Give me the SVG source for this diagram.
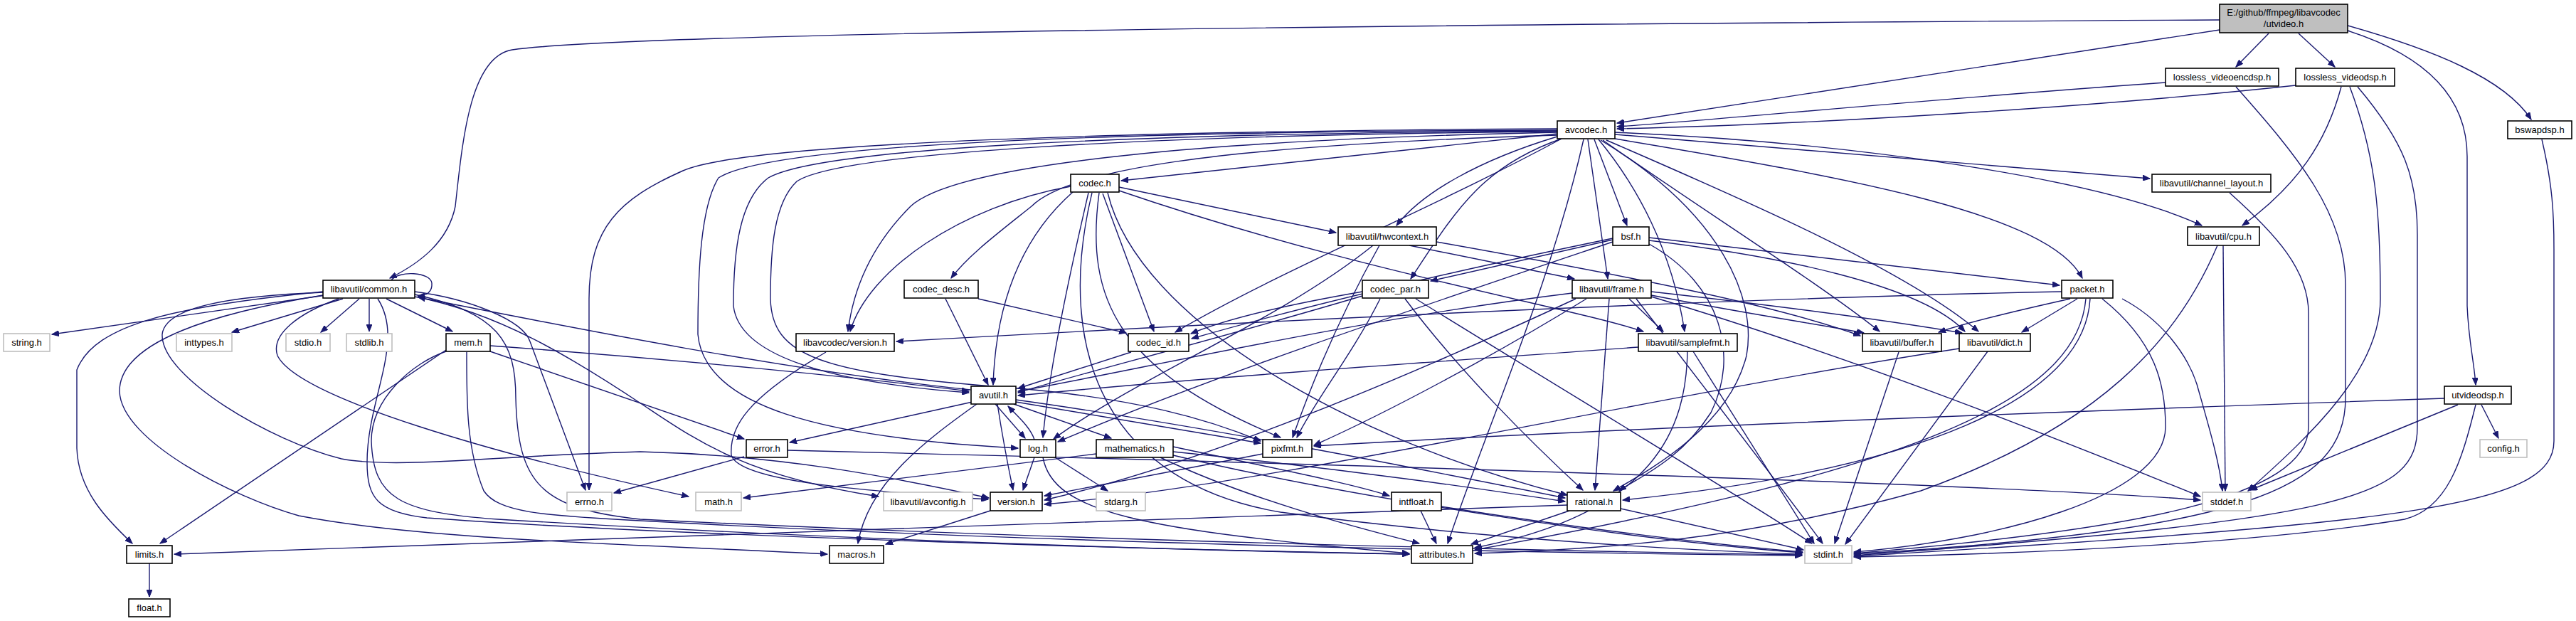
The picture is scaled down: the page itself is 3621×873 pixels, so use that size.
<svg xmlns="http://www.w3.org/2000/svg" width="3621" height="873" viewBox="0 0 3621 873">
<defs>
<marker id="a" markerWidth="11" markerHeight="8" refX="10" refY="4" orient="auto" markerUnits="userSpaceOnUse"><path d="M0,0 L10,4 L0,8 z" fill="#191970" stroke="#191970" stroke-width="1"/></marker>
<style>
.n rect{fill:#fff;stroke:#000;stroke-width:1.6}
.g rect{fill:#fff;stroke:#bfbfbf;stroke-width:1.6}
.r rect{fill:#bfbfbf;stroke:#000;stroke-width:1.6}
text{font-family:"Liberation Sans",Arial,sans-serif;font-size:13px;text-anchor:middle;fill:#000}
#edges path{fill:none;stroke:#191970;stroke-width:1.4;marker-end:url(#a)}
</style>
</defs>
<rect width="3621" height="873" fill="#fff"/>
<g id="edges">
<path d="M3120,28 C2000,34 900,45 720,70 C660,80 650,200 640,290 C630,340 590,370 548,391"/>
<path d="M3120,42 L2273,173"/>
<path d="M3189,47 L3143,94"/>
<path d="M3231,47 L3282,94"/>
<path d="M3300,43 C3400,75 3468,130 3468,220 L3468,430 C3470,480 3478,510 3480,541"/>
<path d="M3300,36 C3420,70 3520,110 3558,168"/>
<path d="M3044,116 C2700,140 2400,170 2273,178"/>
<path d="M3143,122 C3230,220 3297,300 3297,400 L3297,560 C3297,690 3150,745 2606,779"/>
<path d="M3227,120 C2950,150 2550,175 2273,181"/>
<path d="M3291,122 C3270,200 3230,260 3152,317"/>
<path d="M3303,122 C3340,220 3346,300 3346,420 C3346,520 3250,610 3160,690"/>
<path d="M3314,122 C3380,200 3398,250 3398,330 L3398,600 C3398,700 3300,730 2606,781"/>
<path d="M3573,196 C3588,260 3590,300 3590,350 L3590,620 C3590,710 3400,735 2606,782"/>
<path d="M3134,271 C3200,330 3245,380 3245,440 L3245,600 C3245,700 3000,745 2606,778"/>
<path d="M3125,345 L3128,690"/>
<path d="M3117,345 C3060,480 2950,600 2700,690 C2450,760 2250,772 2073,778"/>
<path d="M3436,560 C3000,575 2300,600 1847,627"/>
<path d="M3488,569 L3512,616"/>
<path d="M3455,569 L3163,689"/>
<path d="M3480,569 C3460,650 3440,715 3380,730 C3200,760 2900,778 2606,783"/>
<path d="M2189,181 C1600,184 1050,200 960,240 C870,280 828,320 828,420 L828,689"/>
<path d="M2189,186 C1750,195 1350,225 1280,290 C1230,340 1200,400 1192,466"/>
<path d="M2189,184 C1550,188 1150,210 1080,250 C1040,280 1031,350 1031,430 C1040,510 1200,540 1362,552"/>
<path d="M2189,183 C1500,185 1080,205 1010,250 C985,290 981,380 981,470 C990,570 1150,615 1431,630"/>
<path d="M2189,185 C1600,190 1180,215 1120,255 C1088,285 1083,350 1083,420 C1085,500 1150,525 1420,545 C1600,560 1700,590 1772,620"/>
<path d="M2189,188 L1576,254"/>
<path d="M2189,192 C2080,225 2000,270 1963,317"/>
<path d="M2195,195 C2080,235 2044,300 1983,392"/>
<path d="M2232,196 L2260,392"/>
<path d="M2241,196 L2287,317"/>
<path d="M2226,196 C2180,400 2090,600 2035,764"/>
<path d="M2247,196 C2300,260 2350,350 2368,466"/>
<path d="M2253,197 C2400,300 2560,400 2642,466"/>
<path d="M2258,197 C2450,280 2680,380 2781,466"/>
<path d="M2270,195 C2600,250 2880,300 2927,391"/>
<path d="M2270,186 C2600,200 2950,250 3095,317"/>
<path d="M2270,189 L3022,251"/>
<path d="M2250,197 C2420,300 2470,420 2455,500 C2430,600 2320,660 2268,690"/>
<path d="M2189,190 C1700,205 1500,240 1450,290 C1400,330 1360,360 1337,391"/>
<path d="M2195,195 C2000,300 1800,380 1652,467"/>
<path d="M1505,262 C1350,290 1220,380 1195,466"/>
<path d="M1508,270 C1440,330 1400,420 1396,541"/>
<path d="M1530,271 C1500,400 1475,520 1466,615"/>
<path d="M1573,263 L1878,327"/>
<path d="M1573,268 C1900,380 2200,430 2310,466"/>
<path d="M1550,272 L1622,466"/>
<path d="M1545,271 C1525,420 1570,520 1800,615"/>
<path d="M1557,271 C1600,450 1900,620 2203,696"/>
<path d="M1535,271 C1480,500 1560,680 1800,720 C2100,760 2400,775 2533,779"/>
<path d="M1329,420 L1389,541"/>
<path d="M1375,420 L1583,468"/>
<path d="M1590,495 L1431,546"/>
<path d="M1915,410 C1800,430 1720,450 1674,469"/>
<path d="M1915,416 C1700,480 1500,530 1431,552"/>
<path d="M1940,420 C1900,500 1850,560 1823,615"/>
<path d="M1975,420 C2050,520 2150,620 2225,689"/>
<path d="M1990,420 C2200,550 2450,700 2547,764"/>
<path d="M2318,338 C2500,360 2700,400 2762,466"/>
<path d="M2318,334 L2895,401"/>
<path d="M2267,337 L2011,395"/>
<path d="M2267,335 C2000,390 1800,440 1675,476"/>
<path d="M2267,340 C2000,430 1700,530 1487,621"/>
<path d="M2318,343 C2420,400 2445,500 2405,580 C2360,650 2300,672 2276,690"/>
<path d="M2898,410 C2400,420 1800,450 1260,480"/>
<path d="M2910,420 C2820,440 2760,455 2725,467"/>
<path d="M2920,420 L2842,467"/>
<path d="M2983,420 C3040,450 3075,500 3088,540 C3105,600 3120,650 3124,690"/>
<path d="M2955,420 C3030,480 3044,540 3044,600 C3044,700 2800,760 2606,776"/>
<path d="M2932,420 C2920,560 2700,660 2073,773"/>
<path d="M2938,420 C2930,560 2700,660 2281,703"/>
<path d="M1981,345 L2213,392"/>
<path d="M2019,340 C2300,390 2500,430 2615,472"/>
<path d="M1930,345 C1800,450 1600,530 1481,617"/>
<path d="M1939,345 C1880,450 1840,550 1817,615"/>
<path d="M2210,412 C1900,450 1600,520 1431,550"/>
<path d="M2290,420 L2338,466"/>
<path d="M2321,415 C2450,440 2550,455 2620,468"/>
<path d="M2321,410 C2500,430 2650,450 2758,468"/>
<path d="M2262,420 L2242,689"/>
<path d="M2230,420 C2100,500 1950,580 1847,626"/>
<path d="M2215,420 C2000,520 1700,650 1468,703"/>
<path d="M2300,420 C2400,550 2500,680 2562,764"/>
<path d="M2321,417 C2600,500 2900,620 3093,698"/>
<path d="M2303,488 C2000,510 1700,530 1431,556"/>
<path d="M2372,494 C2370,600 2330,720 2073,770"/>
<path d="M2380,494 L2550,764"/>
<path d="M2669,495 L2579,764"/>
<path d="M2794,494 L2594,765"/>
<path d="M2754,490 C2300,560 1800,680 1468,709"/>
<path d="M1161,495 C1050,560 1025,600 1028,640 C1040,680 1250,692 1389,702"/>
<path d="M1364,548 C1100,520 800,460 588,418"/>
<path d="M1367,565 L1110,622"/>
<path d="M1399,568 L1441,616"/>
<path d="M1425,568 L1562,616"/>
<path d="M1428,565 L1772,623"/>
<path d="M1402,568 C1410,620 1418,660 1424,689"/>
<path d="M1373,568 C1300,620 1220,680 1206,764"/>
<path d="M1428,562 C1700,600 2000,660 2200,700"/>
<path d="M1454,618 C1448,600 1430,585 1417,571"/>
<path d="M1454,643 L1438,689"/>
<path d="M1483,643 L1557,690"/>
<path d="M1466,643 C1480,720 1600,745 1981,778"/>
<path d="M1046,642 L863,693"/>
<path d="M1107,633 C1800,650 2800,680 3093,703"/>
<path d="M1541,638 L1045,700"/>
<path d="M1649,635 C1900,660 2100,690 2200,705"/>
<path d="M1649,628 C1800,660 1900,680 1953,697"/>
<path d="M1631,643 C1750,700 1900,740 1995,764"/>
<path d="M1649,640 C1900,700 2300,760 2534,777"/>
<path d="M1775,638 L1468,697"/>
<path d="M1392,718 L1245,765"/>
<path d="M2278,715 L2535,773"/>
<path d="M2206,718 L2068,765"/>
<path d="M2203,710 C1500,730 800,760 245,779"/>
<path d="M1997,718 L2019,764"/>
<path d="M2026,712 C2200,740 2400,765 2534,776"/>
<path d="M210,792 L210,839"/>
<path d="M458,415 L73,470"/>
<path d="M482,420 L326,467"/>
<path d="M505,420 L451,467"/>
<path d="M519,420 L519,466"/>
<path d="M543,420 L636,466"/>
<path d="M454,410 C250,430 133,455 108,520 L108,630 C110,690 150,730 186,764"/>
<path d="M583,410 C660,420 735,450 745,480 L823,689"/>
<path d="M476,420 C420,440 380,470 390,500 C420,560 700,640 968,698"/>
<path d="M454,415 C300,440 168,480 168,550 C170,620 330,700 420,725 C600,760 900,765 1163,779"/>
<path d="M583,417 C700,440 800,500 905,570 C980,620 1050,670 1235,698"/>
<path d="M454,411 C330,416 232,430 228,470 C226,530 380,620 480,645 C560,660 700,640 900,635 C1100,640 1250,670 1390,700"/>
<path d="M531,420 C570,480 516,560 516,650 C516,700 530,720 600,728 C900,750 1500,770 1981,779"/>
<path d="M583,414 C700,440 725,480 725,560 C728,680 760,715 900,730 C1500,760 2200,775 2533,780"/>
<path d="M550,394 C560,380 605,382 607,398 C608,410 600,416 587,416"/>
<path d="M627,492 L225,764"/>
<path d="M627,494 C580,510 522,560 522,620 C525,700 560,720 700,730 C1200,760 1700,775 1981,779"/>
<path d="M656,495 C656,560 655,630 680,690 C700,720 760,725 900,732 C1500,765 2200,778 2533,781"/>
<path d="M689,494 L1046,617"/>
<path d="M689,486 C950,505 1200,530 1362,550"/>
</g>
<g id="utvideo" class="r"><rect x="3120" y="6" width="180" height="40"/><text x="3210" y="22">E:/github/ffmpeg/libavcodec</text><text x="3210" y="38">/utvideo.h</text></g>
<g id="lossless_videoencdsp" class="n"><rect x="3044" y="96" width="159" height="25"/><text x="3123.5" y="113">lossless_videoencdsp.h</text></g>
<g id="lossless_videodsp" class="n"><rect x="3227" y="96" width="139" height="25"/><text x="3296.5" y="113">lossless_videodsp.h</text></g>
<g id="avcodec" class="n"><rect x="2189" y="170" width="81" height="25"/><text x="2229.5" y="187">avcodec.h</text></g>
<g id="bswapdsp" class="n"><rect x="3525" y="170" width="90" height="25"/><text x="3570" y="187">bswapdsp.h</text></g>
<g id="codec" class="n"><rect x="1505" y="245" width="68" height="25"/><text x="1539" y="262">codec.h</text></g>
<g id="channel_layout" class="n"><rect x="3025" y="245" width="167" height="25"/><text x="3108.5" y="262">libavutil/channel_layout.h</text></g>
<g id="hwcontext" class="n"><rect x="1881" y="319" width="138" height="26"/><text x="1950" y="336.5">libavutil/hwcontext.h</text></g>
<g id="bsf" class="n"><rect x="2267" y="319" width="51" height="26"/><text x="2292.5" y="336.5">bsf.h</text></g>
<g id="cpu" class="n"><rect x="3075" y="319" width="101" height="26"/><text x="3125.5" y="336.5">libavutil/cpu.h</text></g>
<g id="common" class="n"><rect x="454" y="394" width="129" height="25"/><text x="518.5" y="411">libavutil/common.h</text></g>
<g id="codec_desc" class="n"><rect x="1271" y="394" width="104" height="25"/><text x="1323" y="411">codec_desc.h</text></g>
<g id="codec_par" class="n"><rect x="1915" y="394" width="93" height="25"/><text x="1961.5" y="411">codec_par.h</text></g>
<g id="frame" class="n"><rect x="2210" y="394" width="111" height="25"/><text x="2265.5" y="411">libavutil/frame.h</text></g>
<g id="packet" class="n"><rect x="2898" y="394" width="72" height="25"/><text x="2934" y="411">packet.h</text></g>
<g id="string" class="g"><rect x="5" y="469" width="65" height="25"/><text x="37.5" y="486">string.h</text></g>
<g id="inttypes" class="g"><rect x="248" y="469" width="78" height="25"/><text x="287" y="486">inttypes.h</text></g>
<g id="stdio" class="g"><rect x="402" y="469" width="62" height="25"/><text x="433" y="486">stdio.h</text></g>
<g id="stdlib" class="g"><rect x="487" y="469" width="64" height="25"/><text x="519" y="486">stdlib.h</text></g>
<g id="mem" class="n"><rect x="627" y="469" width="62" height="25"/><text x="658" y="486">mem.h</text></g>
<g id="lavc_version" class="n"><rect x="1119" y="469" width="138" height="25"/><text x="1188" y="486">libavcodec/version.h</text></g>
<g id="codec_id" class="n"><rect x="1586" y="469" width="85" height="25"/><text x="1628.5" y="486">codec_id.h</text></g>
<g id="samplefmt" class="n"><rect x="2303" y="469" width="139" height="25"/><text x="2372.5" y="486">libavutil/samplefmt.h</text></g>
<g id="buffer" class="n"><rect x="2618" y="469" width="111" height="25"/><text x="2673.5" y="486">libavutil/buffer.h</text></g>
<g id="dict" class="n"><rect x="2754" y="469" width="100" height="25"/><text x="2804" y="486">libavutil/dict.h</text></g>
<g id="avutil" class="n"><rect x="1365" y="543" width="63" height="25"/><text x="1396.5" y="560">avutil.h</text></g>
<g id="utvideodsp" class="n"><rect x="3436" y="543" width="94" height="25"/><text x="3483" y="560">utvideodsp.h</text></g>
<g id="error" class="n"><rect x="1049" y="618" width="58" height="25"/><text x="1078" y="635">error.h</text></g>
<g id="log" class="n"><rect x="1434" y="618" width="50" height="25"/><text x="1459" y="635">log.h</text></g>
<g id="mathematics" class="n"><rect x="1541" y="618" width="108" height="25"/><text x="1595" y="635">mathematics.h</text></g>
<g id="pixfmt" class="n"><rect x="1775" y="618" width="69" height="25"/><text x="1809.5" y="635">pixfmt.h</text></g>
<g id="config" class="g"><rect x="3486" y="618" width="66" height="25"/><text x="3519" y="635">config.h</text></g>
<g id="errno" class="g"><rect x="797" y="692" width="63" height="26"/><text x="828.5" y="709.5">errno.h</text></g>
<g id="math" class="g"><rect x="978" y="692" width="64" height="26"/><text x="1010" y="709.5">math.h</text></g>
<g id="avconfig" class="g"><rect x="1242" y="692" width="125" height="26"/><text x="1304.5" y="709.5">libavutil/avconfig.h</text></g>
<g id="version" class="n"><rect x="1392" y="692" width="73" height="26"/><text x="1428.5" y="709.5">version.h</text></g>
<g id="stdarg" class="g"><rect x="1541" y="692" width="69" height="26"/><text x="1575.5" y="709.5">stdarg.h</text></g>
<g id="intfloat" class="n"><rect x="1956" y="692" width="70" height="26"/><text x="1991" y="709.5">intfloat.h</text></g>
<g id="rational" class="n"><rect x="2203" y="692" width="75" height="26"/><text x="2240.5" y="709.5">rational.h</text></g>
<g id="stddef" class="g"><rect x="3096" y="692" width="68" height="26"/><text x="3130" y="709.5">stddef.h</text></g>
<g id="limits" class="n"><rect x="178" y="767" width="64" height="25"/><text x="210" y="784">limits.h</text></g>
<g id="macros" class="n"><rect x="1166" y="767" width="76" height="25"/><text x="1204" y="784">macros.h</text></g>
<g id="attributes" class="n"><rect x="1984" y="767" width="86" height="25"/><text x="2027" y="784">attributes.h</text></g>
<g id="stdint" class="g"><rect x="2537" y="767" width="66" height="25"/><text x="2570" y="784">stdint.h</text></g>
<g id="float" class="n"><rect x="181" y="842" width="58" height="25"/><text x="210" y="859">float.h</text></g>
</svg>
